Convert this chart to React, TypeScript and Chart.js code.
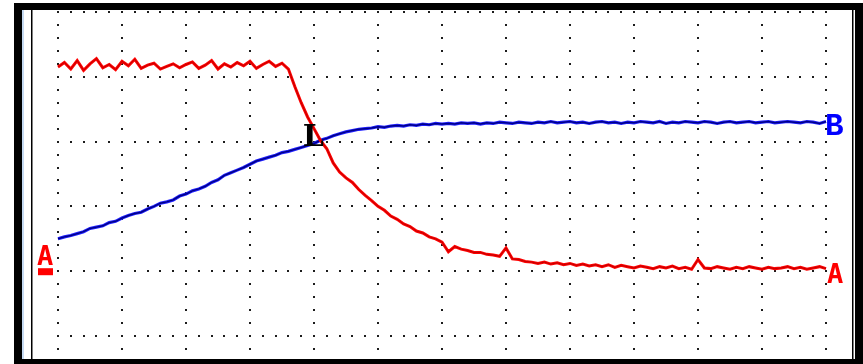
import React, { useEffect, useRef } from "react";
import { Chart, registerables } from "chart.js";

Chart.register(...registerables);

// time axis in horizontal divisions
const TIME = [
  0, 0.1, 0.2, 0.3, 0.4, 0.5, 0.6, 0.7, 0.8, 0.9,
  1, 1.1, 1.2, 1.3, 1.4, 1.5, 1.6, 1.7, 1.8, 1.9,
  2, 2.1, 2.2, 2.3, 2.4, 2.5, 2.6, 2.7, 2.8, 2.9,
  3, 3.1, 3.2, 3.3, 3.4, 3.5, 3.6, 3.7, 3.8, 3.9,
  4, 4.1, 4.2, 4.3, 4.4, 4.5, 4.6, 4.7, 4.8, 4.9,
  5, 5.1, 5.2, 5.3, 5.4, 5.5, 5.6, 5.7, 5.8, 5.9,
  6, 6.1, 6.2, 6.3, 6.4, 6.5, 6.6, 6.7, 6.8, 6.9,
  7, 7.1, 7.2, 7.3, 7.4, 7.5, 7.6, 7.7, 7.8, 7.9,
  8, 8.1, 8.2, 8.3, 8.4, 8.5, 8.6, 8.7, 8.8, 8.9,
  9, 9.1, 9.2, 9.3, 9.4, 9.5, 9.6, 9.7, 9.8, 9.9,
  10, 10.1, 10.2, 10.3, 10.4, 10.5, 10.6, 10.7, 10.8, 10.9,
  11, 11.1, 11.2, 11.3, 11.4, 11.5, 11.6, 11.7, 11.8, 11.9,
  12,
];

// channel A (red), in vertical divisions
const TRACE_A = [
  4.15, 4.22, 4.12, 4.25, 4.10, 4.20, 4.28, 4.14, 4.19, 4.11,
  4.24, 4.17, 4.27, 4.13, 4.18, 4.21, 4.12, 4.16, 4.20, 4.14,
  4.19, 4.23, 4.13, 4.18, 4.25, 4.12, 4.20, 4.15, 4.22, 4.17,
  4.24, 4.13, 4.19, 4.24, 4.16, 4.21, 4.12, 3.85, 3.60, 3.38,
  3.20, 3.02, 2.89, 2.67, 2.53, 2.44, 2.37, 2.26, 2.17, 2.09,
  2.00, 1.94, 1.85, 1.80, 1.73, 1.69, 1.62, 1.59, 1.53, 1.50,
  1.45, 1.30, 1.38, 1.34, 1.32, 1.29, 1.29, 1.26, 1.25, 1.23,
  1.36, 1.19, 1.18, 1.15, 1.14, 1.12, 1.14, 1.11, 1.13, 1.10,
  1.12, 1.09, 1.11, 1.08, 1.10, 1.07, 1.10, 1.06, 1.09, 1.07,
  1.05, 1.08, 1.06, 1.04, 1.07, 1.05, 1.08, 1.04, 1.06, 1.03,
  1.18, 1.05, 1.04, 1.07, 1.05, 1.03, 1.06, 1.04, 1.07, 1.05,
  1.03, 1.06, 1.04, 1.05, 1.07, 1.04, 1.06, 1.03, 1.05, 1.07,
  1.04,
];

// channel B (blue), in vertical divisions
const TRACE_B = [
  1.50, 1.53, 1.55, 1.58, 1.61, 1.66, 1.68, 1.70, 1.75, 1.77,
  1.82, 1.86, 1.89, 1.91, 1.96, 2.00, 2.05, 2.07, 2.10, 2.16,
  2.19, 2.24, 2.27, 2.31, 2.37, 2.41, 2.48, 2.52, 2.56, 2.60,
  2.65, 2.70, 2.73, 2.76, 2.79, 2.83, 2.85, 2.88, 2.91, 2.94,
  2.97, 3.02, 3.05, 3.09, 3.12, 3.15, 3.17, 3.19, 3.20, 3.21,
  3.23, 3.22, 3.24, 3.25, 3.24, 3.26, 3.25, 3.27, 3.26, 3.28,
  3.27, 3.28, 3.27, 3.29, 3.28, 3.29, 3.27, 3.29, 3.28, 3.30,
  3.29, 3.28, 3.30, 3.29, 3.28, 3.30, 3.29, 3.31, 3.29, 3.30,
  3.31, 3.29, 3.30, 3.28, 3.30, 3.31, 3.29, 3.30, 3.28, 3.30,
  3.29, 3.31, 3.30, 3.29, 3.31, 3.28, 3.30, 3.29, 3.31, 3.30,
  3.29, 3.31, 3.30, 3.28, 3.30, 3.31, 3.29, 3.30, 3.31, 3.29,
  3.30, 3.31, 3.29, 3.30, 3.31, 3.30, 3.29, 3.31, 3.30, 3.28,
  3.31,
];

const X_DIVS = [0, 1, 2, 3, 4, 5, 6, 7, 8, 9, 10, 11, 12];
const Y_DIVS = [0, 1, 2, 3, 4, 5];
const CURSOR = { x: 3.87, y: 2.98 };
const GROUND_A = 1;

const W = 863;
const H = 364;

const framePlugin = {
  id: "scopeFrame",
  beforeDraw(chart: any) {
    const ctx = chart.ctx;
    ctx.save();
    ctx.fillStyle = "#ffffff";
    ctx.fillRect(0, 0, W, H);
    ctx.fillStyle = "#000000";
    ctx.fillRect(14, 3, W - 14, H - 3);
    ctx.fillStyle = "#ffffff";
    ctx.fillRect(22, 10, 833, 349);
    ctx.fillStyle = "#c6daf2";
    ctx.fillRect(22, 10, 2, 349);
    ctx.fillStyle = "#000000";
    ctx.fillRect(31, 10, 1.5, 349);
    ctx.fillRect(852, 10, 1.5, 349);
    ctx.restore();
  },
  beforeDatasetsDraw(chart: any) {
    const ctx = chart.ctx;
    const xs = chart.scales.x;
    const ys = chart.scales.y;
    ctx.save();
    ctx.fillStyle = "#1c1c1c";
    const top = Y_DIVS[Y_DIVS.length - 1];
    const lastX = X_DIVS[X_DIVS.length - 1];
    for (const xd of X_DIVS) {
      const px = Math.round(xs.getPixelForValue(xd));
      for (let k = 0; k <= 26; k++) {
        const py = Math.round(ys.getPixelForValue(top - k * 0.2));
        ctx.fillRect(px - 1, py - 1, 2, 2);
      }
    }
    for (const yd of Y_DIVS) {
      const py = Math.round(ys.getPixelForValue(yd));
      for (let k = 0; k <= lastX * 5; k++) {
        const px = Math.round(xs.getPixelForValue(k * 0.2));
        ctx.fillRect(px - 1, py - 1, 2, 2);
      }
    }
    ctx.restore();
  },
  afterDatasetsDraw(chart: any) {
    const ctx = chart.ctx;
    const xs = chart.scales.x;
    const ys = chart.scales.y;
    ctx.save();
    ctx.textBaseline = "alphabetic";
    ctx.textAlign = "left";
    // cursor marker
    ctx.fillStyle = "#000000";
    ctx.font = 'bold 30px "DejaVu Serif"';
    ctx.fillText("L", xs.getPixelForValue(CURSOR.x) - 3, ys.getPixelForValue(CURSOR.y) + 3);
    // right-hand channel labels
    const xr = xs.getPixelForValue(TIME[TIME.length - 1]) + 1;
    ctx.fillStyle = "#ff0000";
    ctx.font = 'bold 27px "DejaVu Sans Mono"';
    ctx.fillText("A", xr, ys.getPixelForValue(TRACE_A[TRACE_A.length - 1]) + 14);
    ctx.fillStyle = "#0000ff";
    ctx.font = 'bold 31px "Liberation Mono"';
    ctx.fillText("B", xr - 2, ys.getPixelForValue(TRACE_B[TRACE_B.length - 1]) + 13);
    // ground marker of channel A
    const gy = ys.getPixelForValue(GROUND_A);
    ctx.fillStyle = "#ff0000";
    ctx.font = 'bold 27px "DejaVu Sans Mono"';
    ctx.fillText("A", 37, gy - 6);
    ctx.fillRect(38, gy - 3, 15, 7);
    ctx.restore();
  },
};

export default function App() {
  const ref = useRef<HTMLCanvasElement | null>(null);

  useEffect(() => {
    if (!ref.current) return;
    const ptsA = TIME.map((t, i) => ({ x: t, y: TRACE_A[i] }));
    const ptsB = TIME.map((t, i) => ({ x: t, y: TRACE_B[i] }));
    const chart = new Chart(ref.current, {
      type: "line",
      data: {
        datasets: [
          { label: "A", data: ptsA, borderColor: "#c00000", borderWidth: 1, pointRadius: 0, tension: 0, order: 1 },
          { label: "A edge", data: ptsA, borderColor: "#ff0000", borderWidth: 3, pointRadius: 0, tension: 0, order: 2 },
          { label: "B", data: ptsB, borderColor: "#000088", borderWidth: 1.5, pointRadius: 0, tension: 0, order: 3 },
          { label: "B edge", data: ptsB, borderColor: "#2020ff", borderWidth: 3.2, pointRadius: 0, tension: 0, order: 4 },
        ],
      },
      options: {
        animation: false,
        responsive: false,
        devicePixelRatio: 1,
        layout: { padding: { left: 33, right: 10, top: 10, bottom: 5 } },
        plugins: { legend: { display: false }, tooltip: { enabled: false }, title: { display: false } },
        scales: {
          x: { type: "linear", min: -0.390625, max: 12.421875, display: false },
          y: { type: "linear", min: -0.3549, max: 5.0309, display: false },
        },
      },
      plugins: [framePlugin],
    });
    return () => chart.destroy();
  }, []);

  return (
    <div style={{ position: "fixed", left: 0, top: 0, width: W, height: H, background: "#fff" }}>
      <canvas ref={ref} width={W} height={H} style={{ width: W, height: H, display: "block" }} />
    </div>
  );
}
